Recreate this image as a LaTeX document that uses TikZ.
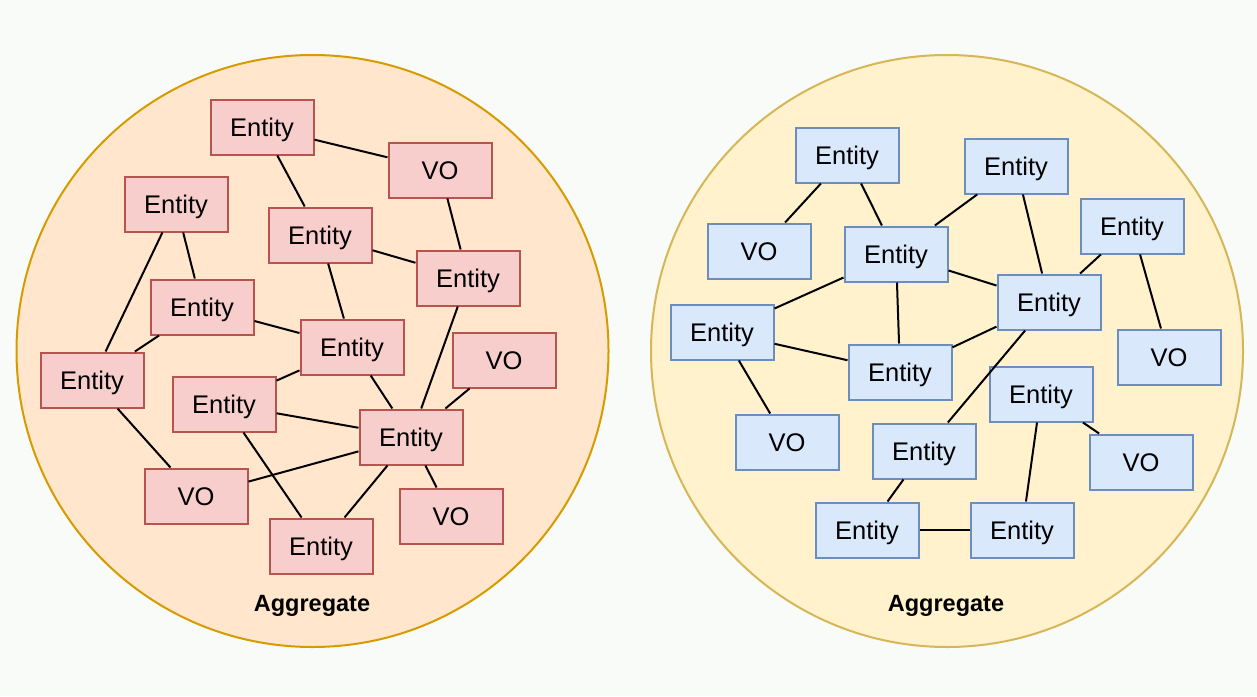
\documentclass[tikz,border=0pt]{standalone}
\usepackage{fontspec}
\setmainfont{Liberation Sans}
\usepackage{xcolor}
\usepackage{tikz}
\usetikzlibrary{positioning}
\definecolor{bgpaper}{HTML}{F8FBF8}
\definecolor{aggleftfill}{HTML}{FFE6CC}
\definecolor{aggleftdraw}{HTML}{D79B00}
\definecolor{aggrightfill}{HTML}{FFF2CC}
\definecolor{aggrightdraw}{HTML}{D6B656}
\definecolor{redfill}{HTML}{F8CECC}
\definecolor{reddraw}{HTML}{B85450}
\definecolor{bluefill}{HTML}{DAE8FC}
\definecolor{bluedraw}{HTML}{6C8EBF}
\tikzstyle{aggregate} = [circle, line width=2pt, minimum size=592pt, inner sep=0pt]
\tikzstyle{block} = [rectangle, line width=2pt, minimum width=103pt,
    minimum height=55pt, inner sep=0pt, text height=18.3pt, text depth=0pt,
    font=\fontsize{25.5}{30}\selectfont]
\tikzstyle{redblock} = [block, draw=reddraw, fill=redfill]
\tikzstyle{blueblock} = [block, draw=bluedraw, fill=bluefill]
\tikzstyle{edge} = [draw, black, line width=2pt]
\tikzstyle{caption} = [text height=16.8pt, text depth=0pt,
    font=\fontsize{23.5}{28}\selectfont\bfseries]

\begin{document}
\begin{tikzpicture}[x=1pt, y=-1pt]
  \fill[bgpaper] (0,0) rectangle (1257,696);
  % Place aggregates
  \node [aggregate, draw=aggleftdraw, fill=aggleftfill] (aggleft) at (312.5,351) {};
  \node [aggregate, draw=aggrightdraw, fill=aggrightfill] (aggright) at (947,351) {};
  \node [caption] (capleft) at (312,603.5) {Aggregate};
  \node [caption] (capright) at (946,603.5) {Aggregate};
  % Place nodes (left)
  \begin{scope}[every node/.style={redblock}]
  \node (lent1) at (262,127) {Entity};
  \node (lvo1) at (440,170) {VO};
  \node (lent2) at (176,204) {Entity};
  \node (lent3) at (320,235) {Entity};
  \node (lent4) at (468,278) {Entity};
  \node (lent5) at (202,307) {Entity};
  \node (lent6) at (352,347) {Entity};
  \node (lent7) at (92,380) {Entity};
  \node (lvo2) at (504,360) {VO};
  \node (lent8) at (224,404) {Entity};
  \node (lent9) at (411,437) {Entity};
  \node (lvo3) at (196,496) {VO};
  \node (lvo4) at (451,516) {VO};
  \node (lent10) at (321,546) {Entity};
  \end{scope}
  % Place nodes (right)
  \begin{scope}[every node/.style={blueblock}]
  \node (rent1) at (847,155) {Entity};
  \node (rvo1) at (759,251) {VO};
  \node (rent2) at (896,254) {Entity};
  \node (rent3) at (1016,166) {Entity};
  \node (rent4) at (1132,226) {Entity};
  \node (rent5) at (1049,302) {Entity};
  \node (rent6) at (722,332) {Entity};
  \node (rent7) at (900,372) {Entity};
  \node (rvo2) at (1169,357) {VO};
  \node (rvo3) at (787,442) {VO};
  \node (rent8) at (1041,394) {Entity};
  \node (rent9) at (924,451) {Entity};
  \node (rvo4) at (1141,462) {VO};
  \node (rent10) at (867,530) {Entity};
  \node (rent11) at (1022,530) {Entity};
  \end{scope}
  % Draw edges
  \path[edge] (lent1) -- (lvo1);
  \path[edge] (lent1) -- (lent3);
  \path[edge] (lvo1) -- (lent4);
  \path[edge] (lent3) -- (lent4);
  \path[edge] (lent3) -- (lent6);
  \path[edge] (lent2) -- (lent7);
  \path[edge] (lent2) -- (lent5);
  \path[edge] (lent5) -- (lent7);
  \path[edge] (lent5) -- (lent6);
  \path[edge] (lent6) -- (lent8);
  \path[edge] (lent6) -- (lent9);
  \path[edge] (lent4) -- (lent9);
  \path[edge] (lvo2) -- (lent9);
  \path[edge] (lent8) -- (lent9);
  \path[edge] (lent7) -- (lvo3);
  \path[edge] (lvo3) -- (lent9);
  \path[edge] (lent8) -- (lent10);
  \path[edge] (lent9) -- (lent10);
  \path[edge] (lent9) -- (lvo4);
  \path[edge] (rent1) -- (rvo1);
  \path[edge] (rent1) -- (rent2);
  \path[edge] (rent2) -- (rent3);
  \path[edge] (rent3) -- (rent5);
  \path[edge] (rent4) -- (rent5);
  \path[edge] (rent4) -- (rvo2);
  \path[edge] (rent2) -- (rent5);
  \path[edge] (rent2) -- (rent6);
  \path[edge] (rent2) -- (rent7);
  \path[edge] (rent6) -- (rent7);
  \path[edge] (rent7) -- (rent5);
  \path[edge] (rent6) -- (rvo3);
  \path[edge] (rent5) -- (rent9);
  \path[edge] (rent9) -- (rent10);
  \path[edge] (rent10) -- (rent11);
  \path[edge] (rent8) -- (rent11);
  \path[edge] (rent8) -- (rvo4);
\end{tikzpicture}
\end{document}
